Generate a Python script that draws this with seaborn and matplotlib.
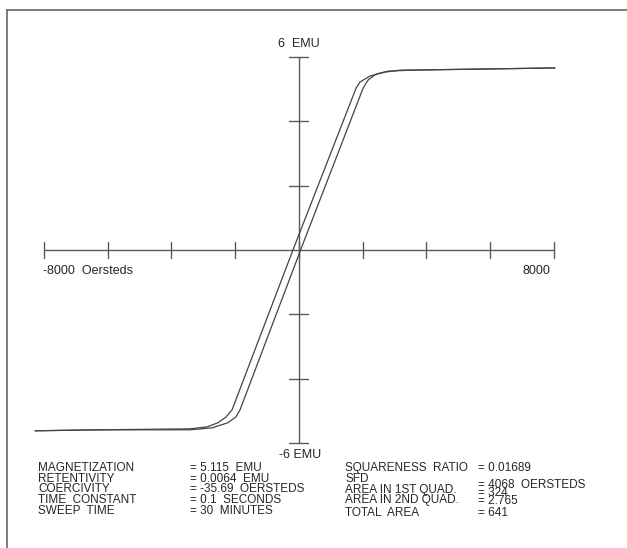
import numpy as np
import pandas as pd
import seaborn as sns
import matplotlib
matplotlib.use("Agg")
import matplotlib.pyplot as plt
from matplotlib.lines import Line2D

# ---- data ----
# descending branch (upper / left), field in Oersteds, moment in EMU
desc_H = [8030, 5360, 3170, 2700, 2230, 1910, 1790, -190, -2100, -2290, -2540, -2890, -3420, -6240, -8280]
desc_M = [5.66, 5.62, 5.59, 5.53, 5.41, 5.22, 5.03, 0.0, -4.97, -5.19, -5.37, -5.50, -5.56, -5.59, -5.62]
# ascending branch (lower / right)
asc_H = [-8280, -6240, -3420, -2730, -2230, -1980, -1850, 50, 2010, 2165, 2415, 2790, 3480, 5360, 8030]
asc_M = [-5.62, -5.59, -5.59, -5.53, -5.37, -5.19, -4.97, 0.0, 5.03, 5.28, 5.47, 5.56, 5.59, 5.62, 5.66]

x_ticks = [-8000, -6000, -4000, -2000, 0, 2000, 4000, 6000, 8000]
y_ticks = [-6, -4, -2, 0, 2, 4, 6]

left_labels = ["MAGNETIZATION", "RETENTIVITY", "COERCIVITY", "TIME  CONSTANT", "SWEEP  TIME"]
left_values = ["= 5.115  EMU", "= 0.0064  EMU", "= -35.69  OERSTEDS", "= 0.1  SECONDS", "= 30  MINUTES"]
right_labels = ["SQUARENESS  RATIO", "SFD", "AREA IN 1ST QUAD.", "AREA IN 2ND QUAD.", "TOTAL  AREA"]
right_values = ["= 0.01689", "= 4068  OERSTEDS", "= 324", "= 2.765", "= 641"]

# ---- figure ----
sns.set_style("white")
plt.rcParams['font.family'] = ['Liberation Sans', 'DejaVu Sans']

W, H = 627, 548
fig = plt.figure(figsize=(W / 100, H / 100), dpi=100)
ax = fig.add_axes([0, 0, 1, 1])
ax.set_axis_off()

# map: pixel 44 -> -8000, 554 -> 8000 ; pixel y 57 -> 6, 443 -> -6
ppx = 510 / 16000.0
ppy = 386 / 12.0
ax.set_xlim(-8000 - 44 / ppx, 8000 + (W - 554) / ppx)
ax.set_ylim(-6 - (H - 443) / ppy, 6 + 57 / ppy)

axis_col = "#5a5a5a"
curve_col = "#444444"

# axes lines
ax.plot([x_ticks[0], x_ticks[-1]], [0, 0], color=axis_col, lw=1.0)
ax.plot([0, 0], [y_ticks[0], y_ticks[-1]], color=axis_col, lw=1.0)
tx = 8 / ppy
for xv in x_ticks:
    ax.plot([xv, xv], [-tx, tx], color=axis_col, lw=1.0)
ty = 9.5 / ppx
for yv in y_ticks:
    if yv != 0:
        ax.plot([-ty, ty], [yv, yv], color=axis_col, lw=1.0)

# hysteresis loop
df = pd.concat([
    pd.DataFrame({"H": desc_H, "M": desc_M, "branch": "desc", "order": range(len(desc_H))}),
    pd.DataFrame({"H": asc_H, "M": asc_M, "branch": "asc", "order": range(len(asc_H))}),
])
for br, g in df.groupby("branch"):
    sns.lineplot(data=g, x="H", y="M", sort=False, estimator=None, ax=ax,
                 color=curve_col, lw=0.9)
ax.set_axis_off()

fs = 8.5
# axis labels
ax.text(0, 6 + 13 / ppy, "6  EMU", ha="center", va="center", fontsize=fs + 0.5)
ax.text(30, -6 - 12 / ppy, "-6 EMU", ha="center", va="center", fontsize=fs + 0.5)
ax.text(-8000 - 1 / ppx, -21 / ppy, "-8000  Oersteds", ha="left", va="center", fontsize=fs + 0.5)
ax.text(8000 - 4 / ppx, -21 / ppy, "8000", ha="right", va="center", fontsize=fs + 0.5)

# border (top and left)
fig.add_artist(Line2D([7 / W, 1], [1 - 10 / H, 1 - 10 / H], color="#666666", lw=1.2))
fig.add_artist(Line2D([7 / W, 7 / W], [0, 1 - 10 / H], color="#666666", lw=1.2))

def ft(x, y, s, **kw):
    fig.text(x / W, 1 - y / H, s, ha="left", va="center", fontsize=fs, **kw)

ly = [468, 478.5, 489, 500, 510.5]
for lab, val, y in zip(left_labels, left_values, ly):
    ft(38, y, lab)
    ft(190, y, val)

rly = [468, 479, 490.5, 499.5, 513.5]
rvy = [468, 484.5, 493, 501.5, 513.5]
for lab, y in zip(right_labels, rly):
    ft(345, y, lab)
for val, y in zip(right_values, rvy):
    ft(478, y, val)

fig.savefig("out.png", dpi=100, facecolor="white")
